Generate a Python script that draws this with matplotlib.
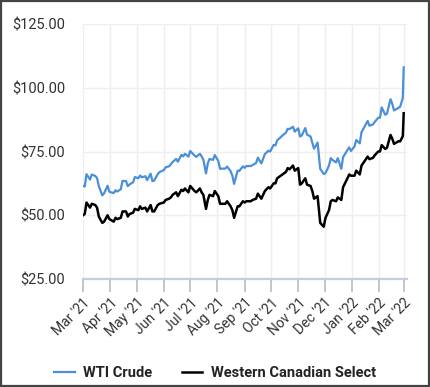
import matplotlib
matplotlib.use("Agg")
import matplotlib.pyplot as plt
import matplotlib.dates as mdates
import pandas as pd

plt.rcParams['font.family'] = ['Roboto', 'DejaVu Sans']

# sample dates (roughly every other trading day)
dates = [
    "2021-03-01", "2021-03-03", "2021-03-05", "2021-03-09", "2021-03-11", "2021-03-15", "2021-03-17", "2021-03-19",
    "2021-03-23", "2021-03-25", "2021-03-29", "2021-03-31",
    "2021-04-05", "2021-04-07", "2021-04-09", "2021-04-13", "2021-04-15", "2021-04-19", "2021-04-21", "2021-04-23",
    "2021-04-27", "2021-04-29",
    "2021-05-03", "2021-05-05", "2021-05-07", "2021-05-11", "2021-05-13", "2021-05-17", "2021-05-19", "2021-05-21",
    "2021-05-25", "2021-05-27",
    "2021-06-01", "2021-06-03", "2021-06-07", "2021-06-09", "2021-06-11", "2021-06-15", "2021-06-17", "2021-06-21",
    "2021-06-23", "2021-06-25", "2021-06-29",
    "2021-07-01", "2021-07-06", "2021-07-08", "2021-07-12", "2021-07-14", "2021-07-16", "2021-07-19", "2021-07-21",
    "2021-07-23", "2021-07-27", "2021-07-29",
    "2021-08-02", "2021-08-04", "2021-08-06", "2021-08-10", "2021-08-12", "2021-08-16", "2021-08-18", "2021-08-20",
    "2021-08-24", "2021-08-26", "2021-08-30",
    "2021-09-01", "2021-09-03", "2021-09-08", "2021-09-10", "2021-09-14", "2021-09-16", "2021-09-20", "2021-09-22",
    "2021-09-24", "2021-09-28", "2021-09-30",
    "2021-10-04", "2021-10-06", "2021-10-08", "2021-10-12", "2021-10-14", "2021-10-18", "2021-10-20", "2021-10-22",
    "2021-10-26", "2021-10-28",
    "2021-11-01", "2021-11-03", "2021-11-05", "2021-11-09", "2021-11-11", "2021-11-15", "2021-11-17", "2021-11-19",
    "2021-11-23", "2021-11-26", "2021-11-30",
    "2021-12-02", "2021-12-06", "2021-12-08", "2021-12-10", "2021-12-14", "2021-12-16", "2021-12-20", "2021-12-22",
    "2021-12-27", "2021-12-29", "2021-12-31",
    "2022-01-04", "2022-01-06", "2022-01-10", "2022-01-12", "2022-01-14", "2022-01-19", "2022-01-21", "2022-01-25",
    "2022-01-27", "2022-01-31",
    "2022-02-02", "2022-02-04", "2022-02-08", "2022-02-10", "2022-02-14", "2022-02-16", "2022-02-18", "2022-02-23",
    "2022-02-25", "2022-02-28",
    "2022-03-01",
]

wti = [
    61.5, 61.3, 66.1, 64.0, 66.0, 65.4, 64.6, 61.4, 57.8, 58.6, 61.6, 59.2,
    58.7, 59.8, 59.3, 60.2, 63.5, 63.4, 61.4, 62.1, 62.9, 65.0,
    64.5, 65.6, 64.9, 65.3, 63.8, 66.3, 63.4, 63.6, 66.1, 66.9,
    67.7, 68.8, 69.2, 70.0, 70.9, 72.1, 71.0, 73.7, 73.1, 74.1, 73.0,
    75.2, 73.4, 72.9, 74.1, 73.1, 71.8, 66.4, 70.3, 72.1, 71.7, 73.6,
    71.3, 68.2, 68.3, 68.3, 69.1, 67.3, 65.5, 62.3, 67.5, 67.4, 69.2,
    68.6, 69.3, 69.3, 69.7, 70.5, 72.6, 70.3, 72.2, 74.0, 75.3, 75.0,
    77.6, 77.4, 79.4, 80.6, 81.3, 82.4, 83.9, 83.8, 84.7, 82.8,
    84.1, 80.9, 81.3, 84.2, 81.6, 80.9, 78.4, 76.1, 78.5, 68.2, 66.2,
    66.5, 69.5, 72.4, 71.7, 70.7, 72.4, 68.2, 72.8, 75.6, 76.6, 75.2,
    77.0, 79.5, 78.2, 82.6, 83.8, 87.0, 85.1, 85.6, 86.6, 88.2,
    88.3, 92.3, 89.4, 89.9, 95.5, 93.7, 91.1, 92.1, 92.6, 96.0,
    108.0,
]

wcs = [
    50.0, 50.5, 55.0, 53.0, 54.5, 54.0, 53.0, 49.5, 47.0, 47.5, 50.0, 48.5,
    47.5, 49.0, 48.5, 49.0, 51.5, 51.5, 49.5, 50.5, 51.0, 52.5,
    52.0, 53.5, 52.5, 53.0, 51.5, 54.0, 51.5, 51.5, 54.0, 54.5,
    55.0, 56.0, 56.5, 57.0, 58.0, 59.0, 57.5, 60.0, 59.5, 60.5, 59.0,
    61.5, 59.5, 59.0, 60.5, 59.0, 58.0, 52.5, 56.0, 58.0, 57.5, 59.5,
    57.5, 54.5, 54.5, 54.5, 55.5, 53.5, 52.0, 49.0, 53.5, 53.5, 55.5,
    55.0, 55.5, 55.5, 56.0, 56.5, 58.5, 56.5, 58.0, 59.5, 61.0, 60.5,
    62.5, 62.5, 64.5, 65.5, 66.0, 67.0, 68.5, 68.0, 69.5, 67.5,
    68.5, 62.0, 62.5, 64.5, 62.0, 61.5, 59.5, 56.5, 57.5, 47.0, 45.5,
    49.0, 52.0, 55.5, 56.0, 55.5, 57.0, 56.0, 61.0, 64.5, 66.0, 65.5,
    65.5, 67.5, 66.0, 69.5, 70.5, 73.0, 72.0, 72.5, 73.5, 75.0,
    75.0, 77.5, 76.0, 76.5, 81.5, 80.0, 78.0, 79.0, 79.0, 81.0,
    90.0,
]

month_ticks = pd.date_range("2021-03-01", "2022-03-01", freq="MS")
y_ticks = [25, 50, 75, 100, 125]

dt = pd.to_datetime(dates)

fig = plt.figure(figsize=(4.3, 3.87), dpi=100)
ax = fig.add_axes([0.193, 0.279, 0.754, 0.659])

ax.plot(dt, wti, color='#4a90d9', lw=1.6, label='WTI Crude', zorder=3)
ax.plot(dt, wcs, color='black', lw=1.8, label='Western Canadian Select', zorder=3)

ax.set_ylim(25, 125)
ax.set_yticks(y_ticks)
ax.set_yticklabels(['${:.2f}'.format(v) for v in y_ticks])
ax.set_xlim(pd.Timestamp("2021-03-01"), pd.Timestamp("2022-03-05"))
ax.set_xticks(month_ticks)
ax.xaxis.set_major_formatter(mdates.DateFormatter("%b '%y"))
plt.setp(ax.get_xticklabels(), rotation=45, ha='right', rotation_mode='anchor')

ax.grid(True, color='#eeeeee', lw=1, zorder=0)
for s in ['top', 'right', 'left']:
    ax.spines[s].set_visible(False)
ax.spines['bottom'].set_color('#c3cde0')
ax.spines['bottom'].set_linewidth(1.6)
ax.tick_params(axis='y', length=0, pad=13, labelsize=10.5, labelcolor='#333333')
ax.tick_params(axis='x', length=9, width=1.2, color='#bbbbbb', pad=3, labelsize=10, labelcolor='#333333')

leg = fig.legend(loc='lower center', bbox_to_anchor=(0.5, -0.015), ncol=2, frameon=False,
                 handlelength=1.4, handletextpad=0.6, columnspacing=2.0,
                 prop={'size': 10.5, 'weight': 'bold'})
for t in leg.get_texts():
    t.set_color('#222222')

# outer frame
fig.patches.append(plt.Rectangle((0.002, 0.002), 0.996, 0.996, transform=fig.transFigure,
                                 fill=False, edgecolor='#444444', lw=1.6))

fig.savefig("out.png", dpi=100)
